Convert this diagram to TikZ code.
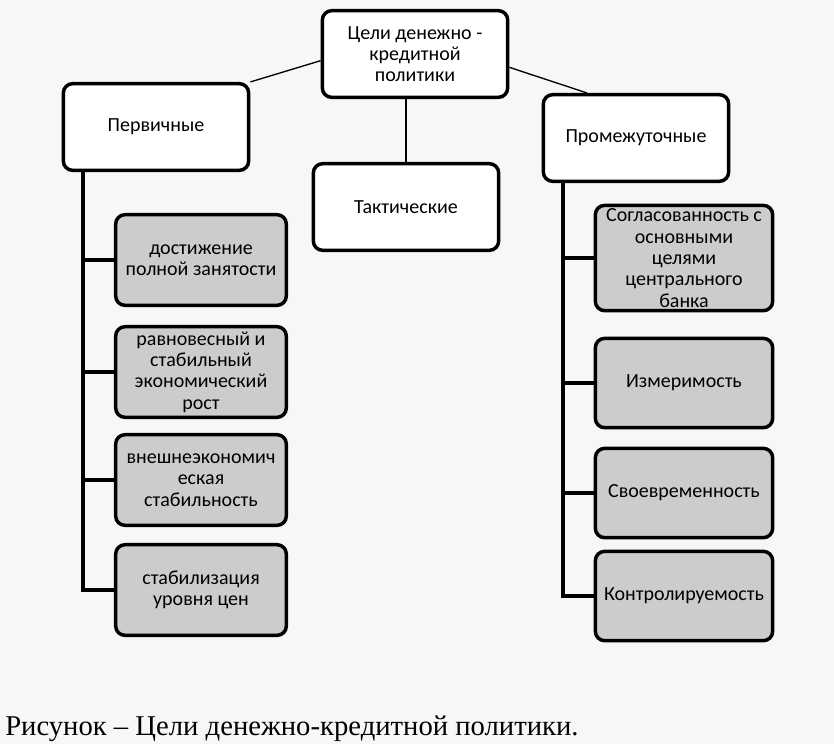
\documentclass[tikz,border=0pt]{standalone}
\usepackage{fontspec}
\setmainfont{Carlito}
\newfontfamily\capfont{Liberation Serif}
\usetikzlibrary{positioning}
\tikzset{
        goalnode/.style={align=center, inner sep=1pt, rounded corners=7pt, line width=2.6pt, draw=black, font=\fontsize{15}{16}\selectfont},
        % Group nodes
        node_group/.style={goalnode, fill=white, minimum width=139pt, minimum height=65pt},
        % Primary goal nodes
        node_prim/.style={goalnode, fill=black!20, minimum width=128pt, minimum height=68pt},
        % Intermediate goal nodes
        node_inter/.style={goalnode, fill=black!20, minimum width=133pt, minimum height=67pt},
        % Links
        link_thin/.style={line width=1pt},
        link_trunk/.style={line width=2.4pt}
}
\begin{document}
\begin{tikzpicture}[x=0.75pt, y=-0.75pt]
            \fill[black!3] (0,0) rectangle (834,744);
            \useasboundingbox (0,0) rectangle (834,744);
            \node[node_group] (goals) at (415,54) {Цели денежно -\\кредитной\\политики};
            \node[node_group] (prim) at (156,127) {Первичные};
            \node[node_group] (tact) at (406,207) {Тактические};
            \node[node_group] (inter) at (636,138) {Промежуточные};
            % primary goals
            \node[node_prim] (p1) at (201,260) {достижение\\полной занятости};
            \node[node_prim] (p2) at (201,372) {равновесный и\\стабильный\\экономический\\рост};
            \node[node_prim] (p3) at (201,480) {внешнеэкономич\\еская\\стабильность};
            \node[node_prim] (p4) at (201,590) {стабилизация\\уровня цен};
            % intermediate goals
            \node[node_inter, minimum height=79pt] (i1) at (684,258) {Согласованность с\\основными\\целями\\центрального\\банка};
            \node[node_inter] (i2) at (684,383) {Измеримость};
            \node[node_inter] (i3) at (684,493) {Своевременность};
            \node[node_inter] (i4) at (684,596) {Контролируемость};
            % links
            \draw[link_thin] ([yshift=-5pt]goals.west) -- (prim.north east);
            \draw[link_thin] ([yshift=-10pt]goals.east) -- ([xshift=34pt]inter.north west);
            \draw[link_thin] (goals.south -| tact.north) -- (tact.north);
            \foreach \n in {p1,p2,p3,p4}
                \draw[link_trunk] ([xshift=16pt]prim.south west) |- (\n.west);
            \foreach \n in {i1,i2,i3,i4}
                \draw[link_trunk] ([xshift=16pt]inter.south west) |- (\n.west);
            \node[anchor=base west, inner sep=0pt, font=\capfont\fontsize{21.5}{24}\selectfont] (caption) at (5,735) {Рисунок – Цели денежно-кредитной политики.};
        \end{tikzpicture}
\end{document}
